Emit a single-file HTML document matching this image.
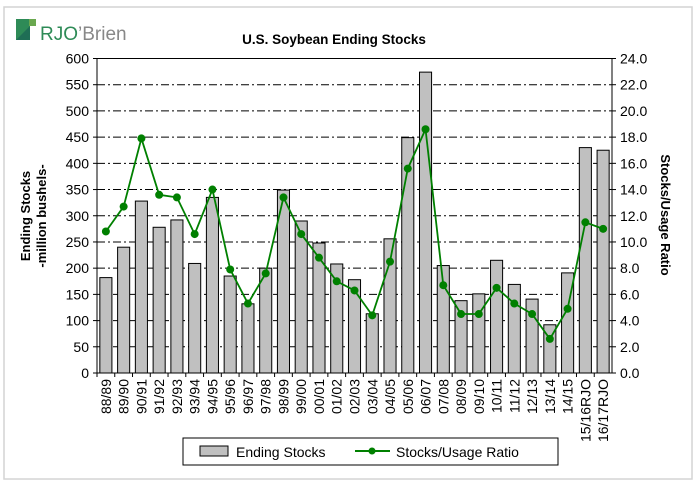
<!DOCTYPE html>
<html><head><meta charset="utf-8"><style>
body{margin:0;background:#fff;font-family:"Liberation Sans",Arial,sans-serif;}
#wrap{position:relative;width:697px;height:486px;overflow:hidden;}
</style></head><body>
<div id="wrap">
<svg id="chart" width="697" height="486" xmlns="http://www.w3.org/2000/svg">
<rect x="4" y="7" width="688" height="472" fill="#fff" stroke="#d4d4d4" stroke-width="1.5"/>
<g>
<rect x="16" y="19" width="14" height="21" fill="#2e8b57"/>
<rect x="29" y="19" width="7" height="7" fill="#6aa84f"/>
<polygon points="16,40 30,26 30,40" fill="#1f6e55"/>
<text x="40" y="40" font-size="19" fill="#2e8b57">RJO</text>
<text x="78" y="40" font-size="19" fill="#888">’Brien</text>
</g>
<text x="334" y="44" font-size="13.5" font-weight="bold" text-anchor="middle" fill="#000">U.S. Soybean Ending Stocks</text>
<g id="grid"></g><g id="bars"></g><g id="line"></g><g id="axes"></g>
<text transform="translate(30,216) rotate(-90)" font-size="13" font-weight="bold" text-anchor="middle">Ending Stocks</text>
<text transform="translate(46,216) rotate(-90)" font-size="13" font-weight="bold" text-anchor="middle">-million bushels-</text>
<text transform="translate(661,215) rotate(90)" font-size="13" font-weight="bold" text-anchor="middle">Stocks/Usage Ratio</text>
<g>
<rect x="183" y="438" width="375" height="27" fill="#fff" stroke="#000"/>
<rect x="200" y="446" width="28" height="10" fill="#c0c0c0" stroke="#000"/>
<text x="236" y="457" font-size="14">Ending Stocks</text>
<line x1="355" y1="451" x2="390" y2="451" stroke="#008000" stroke-width="2"/>
<circle cx="372" cy="451" r="3.5" fill="#008000"/>
<text x="396" y="457" font-size="14">Stocks/Usage Ratio</text>
</g>
</svg>
</div>
<script>
const categories=["88/89","89/90","90/91","91/92","92/93","93/94","94/95","95/96","96/97","97/98","98/99","99/00","00/01","01/02","02/03","03/04","04/05","05/06","06/07","07/08","08/09","09/10","10/11","11/12","12/13","13/14","14/15","15/16RJO","16/17RJO"];
const stocks=[182,240,328,278,292,209,335,185,132,200,349,290,248,208,178,113,256,449,574,205,138,151,215,169,141,92,191,430,425];
const ratio=[10.8,12.7,17.9,13.6,13.4,10.6,14.0,7.9,5.3,7.6,13.4,10.6,8.8,7.0,6.3,4.4,8.5,15.6,18.6,6.7,4.5,4.5,6.5,5.3,4.5,2.6,4.9,11.5,11.0];
const leftTicks=[0,50,100,150,200,250,300,350,400,450,500,550,600];
const rightTicks=[0,2,4,6,8,10,12,14,16,18,20,22,24];
const X0=97,X1=612,Y0=373,Y1=58.5,NS="http://www.w3.org/2000/svg";
const band=(X1-X0)/categories.length;
const xc=i=>X0+band*(i+0.5);
const yL=v=>Y0-(v/600)*(Y0-Y1);
const yR=v=>Y0-(v/24)*(Y0-Y1);
function mk(t,a,p){const e=document.createElementNS(NS,t);for(const k in a)e.setAttribute(k,a[k]);p.appendChild(e);return e;}
const grid=document.getElementById('grid'),bars=document.getElementById('bars'),line=document.getElementById('line'),axes=document.getElementById('axes');
leftTicks.forEach((v,i)=>{const y=yL(v);
 if(v>0&&v<600){const g=mk('line',{x1:X0,x2:X1,y1:y,y2:y,stroke:'#000','stroke-width':1,'stroke-dasharray':'8,3,2,3'},grid);
 
 }
 const t=mk('text',{x:X0-8,y:y+5,'font-size':14,'text-anchor':'end'},axes);t.textContent=v;
 
 
 mk('line',{x1:X0-4,x2:X0,y1:y,y2:y,stroke:'#000'},axes);
});
rightTicks.forEach(v=>{const y=yR(v);
 const t=mk('text',{x:X1+8,y:y+5,'font-size':14},axes);t.textContent=v.toFixed(1);
 
 
 mk('line',{x1:X1,x2:X1+4,y1:y,y2:y,stroke:'#000'},axes);
});
mk('rect',{x:X0,y:Y1,width:X1-X0,height:Y0-Y1,fill:'none',stroke:'#000'},axes);
stocks.forEach((v,i)=>{const w=band*0.68;
 const b=mk('rect',{x:xc(i)-w/2,y:yL(v),width:w,height:Y0-yL(v),fill:'#c0c0c0',stroke:'#000','stroke-width':1},bars);
 
 
});
categories.forEach((c,i)=>{
 mk('line',{x1:X0+band*i,x2:X0+band*i,y1:Y0,y2:Y0+4,stroke:'#000'},axes);
 const t=mk('text',{transform:`translate(${xc(i)+5},${Y0+6}) rotate(-90)`,'font-size':14,'text-anchor':'end'},axes);t.textContent=c;
 
 
});
const pl=mk('polyline',{points:ratio.map((v,i)=>xc(i)+','+yR(v)).join(' '),fill:'none',stroke:'#008000','stroke-width':1.8},line);


ratio.forEach((v,i)=>{const c=mk('circle',{cx:xc(i),cy:yR(v),r:4,fill:'#008000'},line);
 
 
});
</script>
</body></html>
